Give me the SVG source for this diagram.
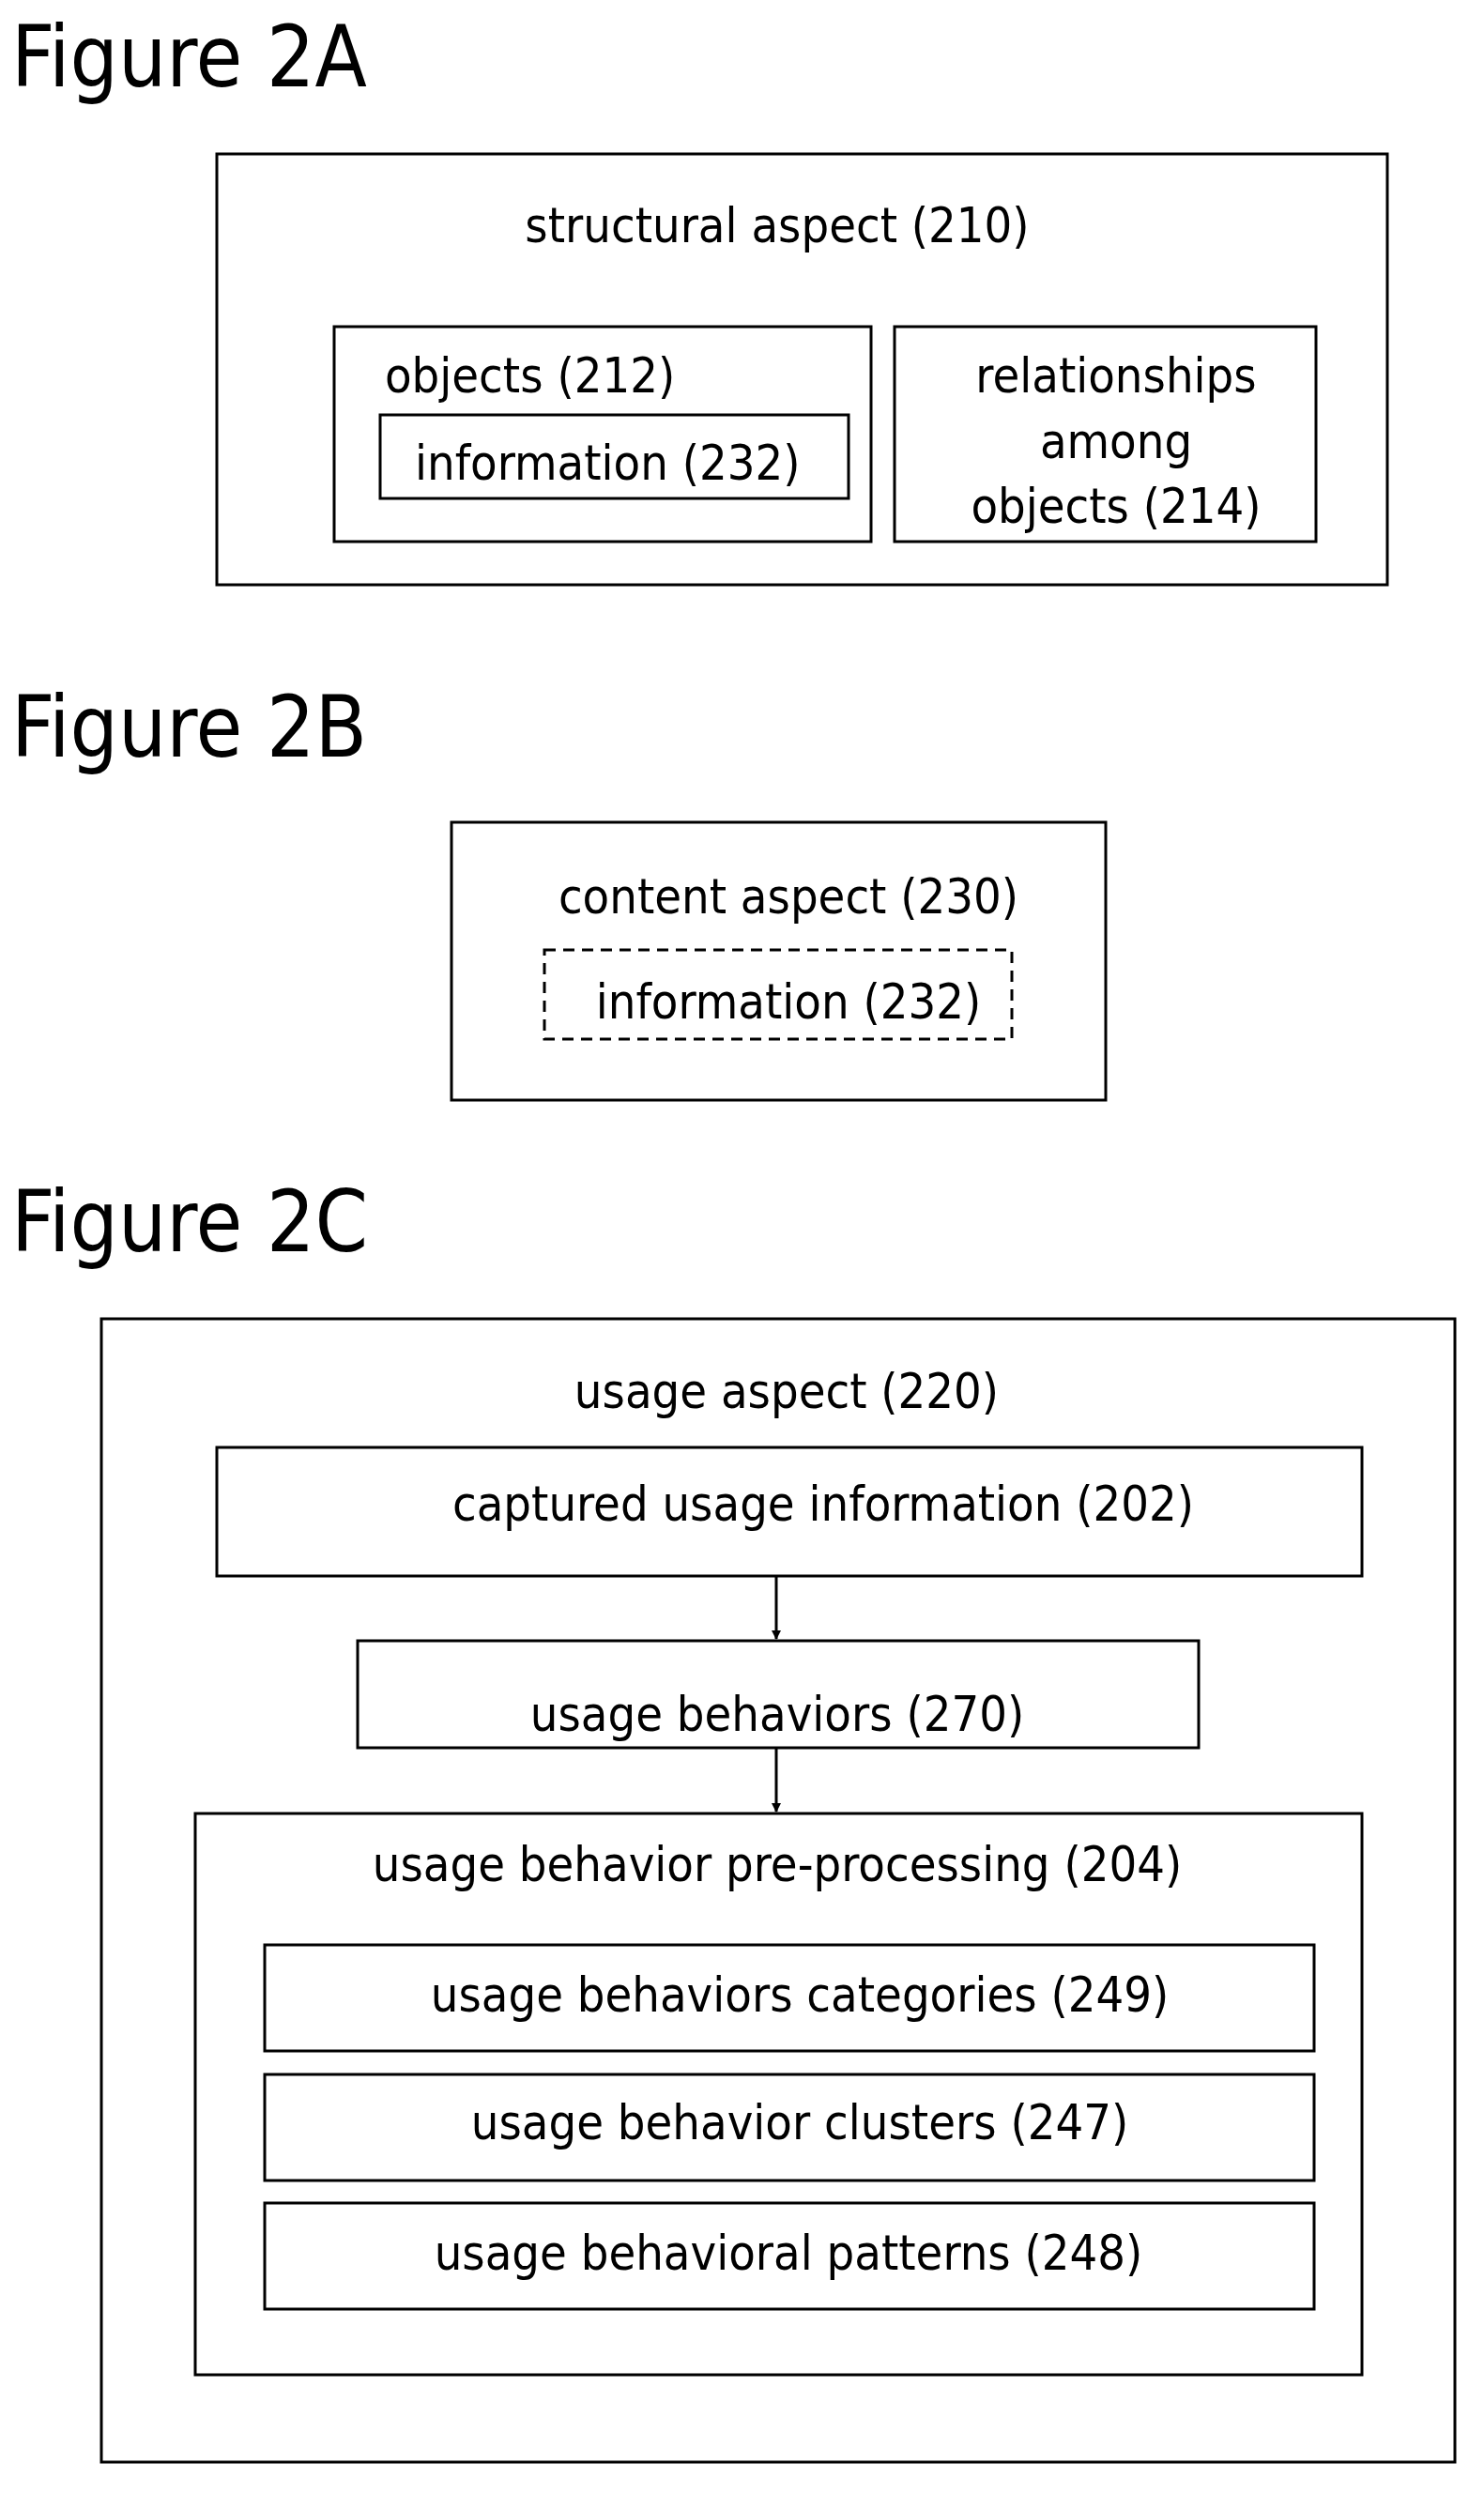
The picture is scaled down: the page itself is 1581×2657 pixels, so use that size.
<svg xmlns="http://www.w3.org/2000/svg" width="1581" height="2657" viewBox="0 0 1581 2657">
<style>
rect{fill:none;stroke:#000;stroke-width:3}
text{font-family:"DejaVu Sans Condensed","DejaVu Sans",sans-serif;font-size:52px;fill:#000}
.c{text-anchor:middle}
.t{font-size:90px}
.d{stroke-dasharray:12,8}
line{stroke:#000;stroke-width:3}
</style>
<defs><marker id="a" markerWidth="10" markerHeight="10" refX="9" refY="5" orient="auto" markerUnits="userSpaceOnUse" viewBox="0 0 10 10"><path d="M0,0L10,5L0,10z" fill="#000"/></marker></defs>
<rect x="0" y="0" width="1581" height="2657" style="fill:#fff;stroke:none"/>
<text class="t" x="12" y="92">Figure 2A</text>
<text class="t" x="12" y="806">Figure 2B</text>
<text class="t" x="12" y="1333">Figure 2C</text>
<g id="structural"><rect x="231" y="164" width="1247" height="459"/><text class="c" x="828" y="258">structural aspect (210)</text></g>
<g id="objects"><rect x="356" y="348" width="572" height="229"/><text x="410" y="418">objects (212)</text></g>
<g id="info1"><rect x="405" y="442" width="499" height="89"/><text x="442" y="511">information (232)</text></g>
<g id="relationships"><rect x="953" y="348" width="449" height="229"/><text class="c" x="1189" y="418">relationships</text><text class="c" x="1189" y="488">among</text><text class="c" x="1189" y="557">objects (214)</text></g>
<g id="content"><rect x="481" y="876" width="697" height="296"/><text class="c" x="840" y="973">content aspect (230)</text></g>
<g id="info2"><rect class="d" x="580" y="1012" width="498" height="95"/><text class="c" x="840" y="1085">information (232)</text></g>
<g id="usage"><rect x="108" y="1405" width="1442" height="1218"/><text class="c" x="838" y="1500">usage aspect (220)</text></g>
<g id="captured"><rect x="231" y="1542" width="1220" height="137"/><text class="c" x="877" y="1620">captured usage information (202)</text></g>
<g id="behaviors"><rect x="381" y="1748" width="896" height="114"/><text class="c" x="828" y="1844">usage behaviors (270)</text></g>
<g id="preproc"><rect x="208" y="1932" width="1243" height="598"/><text class="c" x="828" y="2004">usage behavior pre-processing (204)</text></g>
<g id="categories"><rect x="282" y="2072" width="1118" height="113"/><text class="c" x="852" y="2143">usage behaviors categories (249)</text></g>
<g id="clusters"><rect x="282" y="2210" width="1118" height="113"/><text class="c" x="852" y="2279">usage behavior clusters (247)</text></g>
<g id="patterns"><rect x="282" y="2347" width="1118" height="113"/><text class="c" x="840" y="2418">usage behavioral patterns (248)</text></g>
<g id="connectors"><line x1="827" y1="1679" x2="827" y2="1746" marker-end="url(#a)"/><line x1="827" y1="1862" x2="827" y2="1930" marker-end="url(#a)"/></g>
</svg>
